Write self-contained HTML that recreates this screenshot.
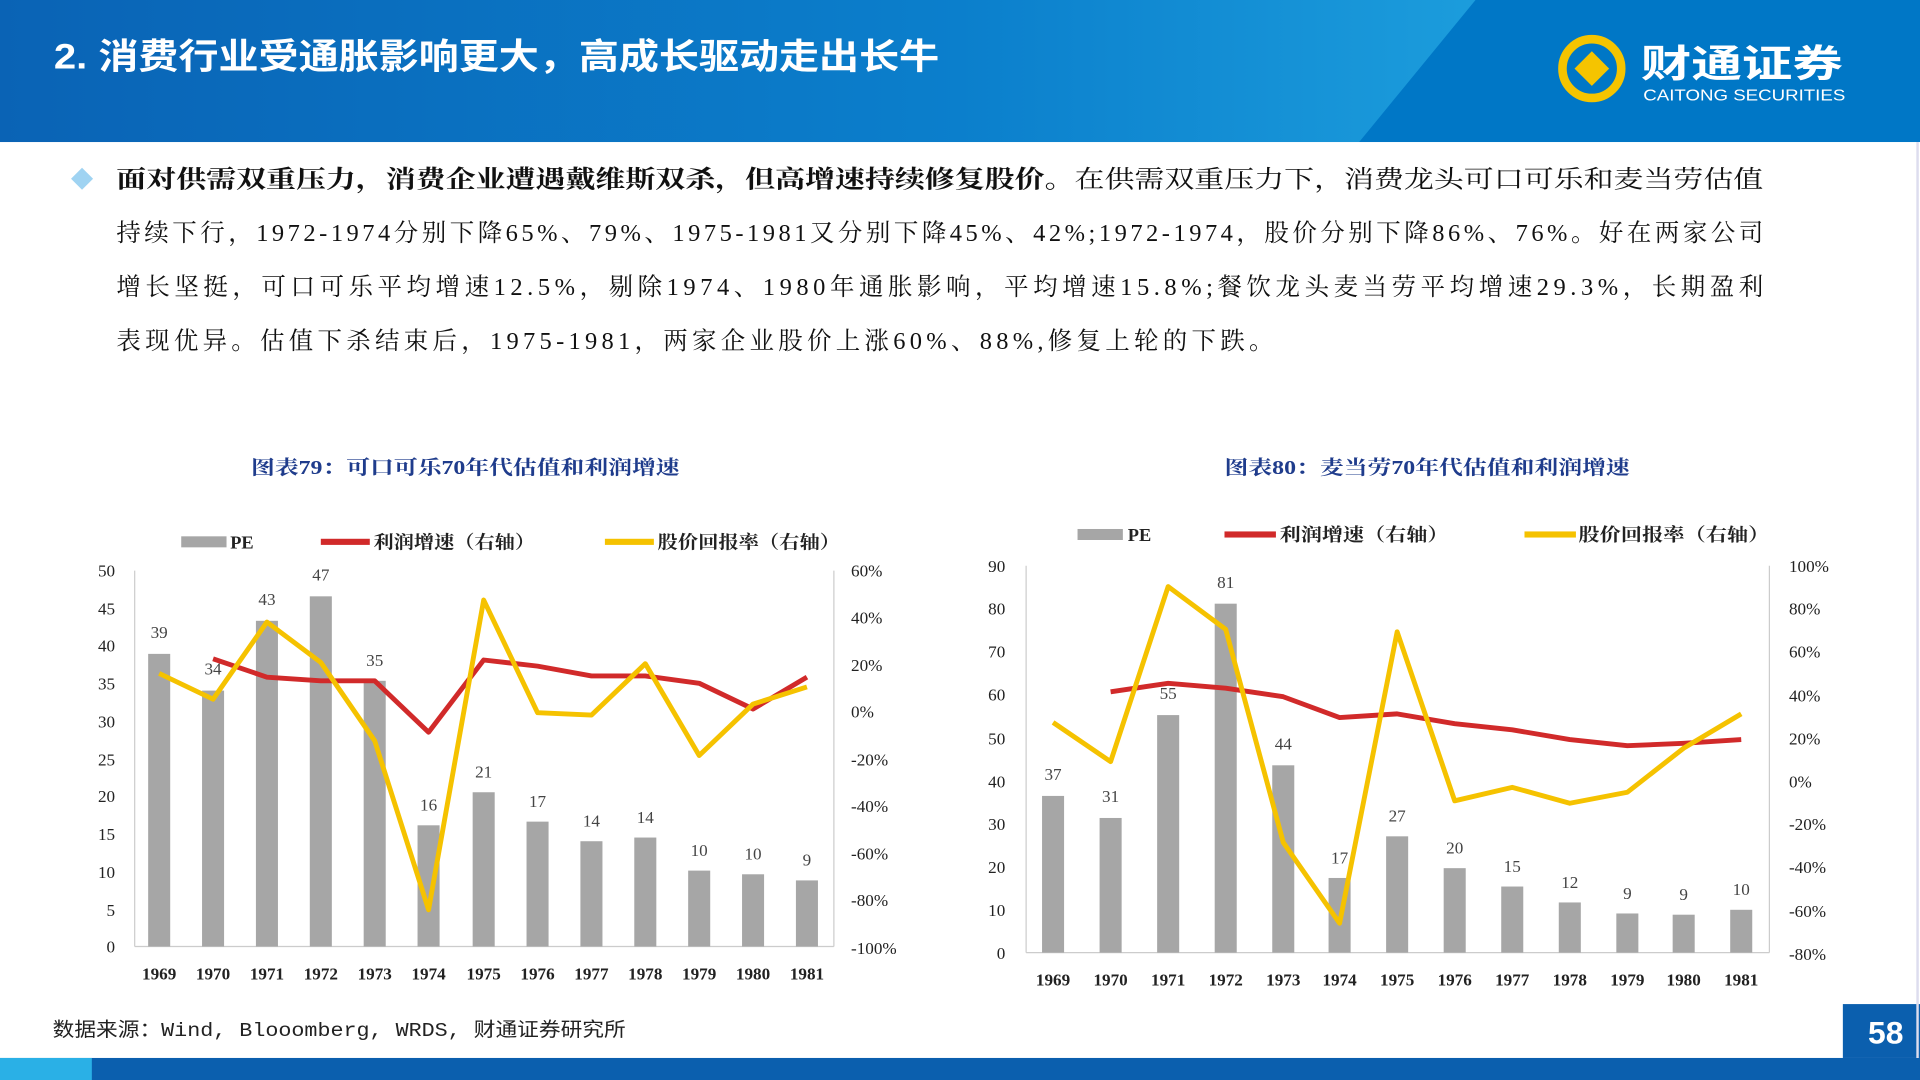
<!DOCTYPE html>
<html><head><meta charset="utf-8"><style>
html,body{margin:0;padding:0;background:#fff;width:1920px;height:1080px;overflow:hidden}
svg{display:block}
text{font-family:"Liberation Serif","Noto Serif CJK SC",serif}
</style></head><body>
<svg width="1920" height="1080" viewBox="0 0 1568 882" xmlns="http://www.w3.org/2000/svg">
<defs>
<linearGradient id="hg" x1="0" x2="1" y1="0" y2="0">
<stop offset="0" stop-color="#0a63b5"/><stop offset="0.5" stop-color="#0b7fcc"/><stop offset="1" stop-color="#2ab6ea"/>
</linearGradient>
</defs>
<rect x="0" y="0" width="1568" height="116" fill="url(#hg)"/>
<polygon points="1205,0 1568,0 1568,116 1110,116" fill="#0077c6"/>
<text x="44" y="56" font-size="29" fill="#fff" font-weight="bold" textLength="723" lengthAdjust="spacingAndGlyphs" style="font-family:'Liberation Sans','Noto Sans CJK SC',sans-serif">2. 消费行业受通胀影响更大，高成长驱动走出长牛</text>
<circle cx="1300" cy="56" r="24" fill="none" stroke="#f5c400" stroke-width="7"/>
<rect x="1290" y="46" width="20" height="20" fill="#f5c400" transform="rotate(45 1300 56)"/>
<text x="1340" y="63" font-size="31" fill="#fff" font-weight="bold" textLength="165" lengthAdjust="spacingAndGlyphs" style="font-family:'Liberation Sans','Noto Sans CJK SC',sans-serif">财通证券</text>
<text x="1342" y="82" font-size="13" fill="#fff" textLength="165" lengthAdjust="spacingAndGlyphs" style="font-family:'Liberation Sans',sans-serif">CAITONG SECURITIES</text>

<polygon points="67,137 76,146 67,155 58,146" fill="#9fd3f2"/>
<g font-size="20" fill="#111" style="font-family:'Liberation Serif','Noto Serif CJK SC',serif">
<text x="95" y="153" textLength="1345" lengthAdjust="spacingAndGlyphs"><tspan font-weight="bold">面对供需双重压力，消费企业遭遇戴维斯双杀，但高增速持续修复股价。</tspan>在供需双重压力下，消费龙头可口可乐和麦当劳估值</text>
<text x="95" y="197" textLength="1345">持续下行，1972-1974分别下降65%、79%、1975-1981又分别下降45%、42%;1972-1974，股价分别下降86%、76%。好在两家公司</text>
<text x="95" y="241" textLength="1345">增长坚挺，可口可乐平均增速12.5%，剔除1974、1980年通胀影响，平均增速15.8%;餐饮龙头麦当劳平均增速29.3%，长期盈利</text>
<text x="95" y="285" textLength="945">表现优异。估值下杀结束后，1975-1981，两家企业股价上涨60%、88%,修复上轮的下跌。</text>
</g>

<g font-size="16" fill="#1f3c8c" font-weight="bold" style="font-family:'Liberation Serif','Noto Serif CJK SC',serif">
<text x="205" y="387" textLength="350" lengthAdjust="spacingAndGlyphs">图表79：可口可乐70年代估值和利润增速</text>
<text x="1000" y="387" textLength="331" lengthAdjust="spacingAndGlyphs">图表80：麦当劳70年代估值和利润增速</text>
</g>

<!-- Chart 1 -->
<g font-size="14" fill="#222">
<line x1="110" y1="466" x2="110" y2="773" stroke="#ccc"/>
<line x1="110" y1="773" x2="681" y2="773" stroke="#ccc"/>
<line x1="681" y1="466" x2="681" y2="773" stroke="#ccc"/>
<g text-anchor="end">
<text x="94" y="778">0</text><text x="94" y="748">5</text><text x="94" y="717">10</text><text x="94" y="686">15</text><text x="94" y="655">20</text><text x="94" y="625">25</text><text x="94" y="594">30</text><text x="94" y="563">35</text><text x="94" y="532">40</text><text x="94" y="502">45</text><text x="94" y="471">50</text>
</g>
<g>
<text x="695" y="471">60%</text><text x="695" y="509">40%</text><text x="695" y="548">20%</text><text x="695" y="586">0%</text><text x="695" y="625">-20%</text><text x="695" y="663">-40%</text><text x="695" y="702">-60%</text><text x="695" y="740">-80%</text><text x="695" y="779">-100%</text>
</g>
<g fill="#a6a6a6">
<rect x="121" y="534" width="18" height="239"/><rect x="165" y="564" width="18" height="209"/><rect x="209" y="507" width="18" height="266"/><rect x="253" y="487" width="18" height="286"/><rect x="297" y="556" width="18" height="217"/><rect x="341" y="674" width="18" height="99"/><rect x="386" y="647" width="18" height="126"/><rect x="430" y="671" width="18" height="102"/><rect x="474" y="687" width="18" height="86"/><rect x="518" y="684" width="18" height="89"/><rect x="562" y="711" width="18" height="62"/><rect x="606" y="714" width="18" height="59"/><rect x="650" y="719" width="18" height="54"/>
</g>
<g text-anchor="middle" fill="#444" font-size="14">
<text x="130" y="521">39</text><text x="174" y="551">34</text><text x="218" y="494">43</text><text x="262" y="474">47</text><text x="306" y="544">35</text><text x="350" y="662">16</text><text x="395" y="635">21</text><text x="439" y="659">17</text><text x="483" y="675">14</text><text x="527" y="672">14</text><text x="571" y="699">10</text><text x="615" y="702">10</text><text x="659" y="707">9</text>
</g>
<polyline fill="none" stroke="#d12a2a" stroke-width="4" stroke-linejoin="round" points="174,538 218,553 262,556 306,556 350,598 395,539 439,544 483,552 527,552 571,558 615,579 659,553"/>
<polyline fill="none" stroke="#f5c200" stroke-width="4" stroke-linejoin="round" points="130,550 174,571 218,508 262,541 306,605 350,743 395,490 439,582 483,584 527,542 571,617 615,575 659,561"/>
<g text-anchor="middle" font-weight="bold" font-size="14">
<text x="130" y="800">1969</text><text x="174" y="800">1970</text><text x="218" y="800">1971</text><text x="262" y="800">1972</text><text x="306" y="800">1973</text><text x="350" y="800">1974</text><text x="395" y="800">1975</text><text x="439" y="800">1976</text><text x="483" y="800">1977</text><text x="527" y="800">1978</text><text x="571" y="800">1979</text><text x="615" y="800">1980</text><text x="659" y="800">1981</text>
</g>
<g font-weight="bold" font-size="15">
<rect x="148" y="438" width="37" height="9" fill="#a6a6a6"/><text x="188" y="448">PE</text>
<rect x="262" y="440" width="40" height="5" fill="#d12a2a"/><text x="305" y="448" textLength="132" lengthAdjust="spacingAndGlyphs">利润增速（右轴）</text>
<rect x="494" y="440" width="40" height="5" fill="#f5c200"/><text x="537" y="448" textLength="149" lengthAdjust="spacingAndGlyphs">股价回报率（右轴）</text>
</g>
</g>

<!-- Chart 2 -->
<g font-size="14" fill="#222">
<line x1="838" y1="462" x2="838" y2="778" stroke="#ccc"/>
<line x1="838" y1="778" x2="1445" y2="778" stroke="#ccc"/>
<line x1="1445" y1="462" x2="1445" y2="778" stroke="#ccc"/>
<g text-anchor="end">
<text x="821" y="783">0</text><text x="821" y="748">10</text><text x="821" y="713">20</text><text x="821" y="678">30</text><text x="821" y="643">40</text><text x="821" y="608">50</text><text x="821" y="572">60</text><text x="821" y="537">70</text><text x="821" y="502">80</text><text x="821" y="467">90</text>
</g>
<g>
<text x="1461" y="467">100%</text><text x="1461" y="502">80%</text><text x="1461" y="537">60%</text><text x="1461" y="573">40%</text><text x="1461" y="608">20%</text><text x="1461" y="643">0%</text><text x="1461" y="678">-20%</text><text x="1461" y="713">-40%</text><text x="1461" y="749">-60%</text><text x="1461" y="784">-80%</text>
</g>
<g fill="#a6a6a6">
<rect x="851" y="650" width="18" height="128"/><rect x="898" y="668" width="18" height="110"/><rect x="945" y="584" width="18" height="194"/><rect x="992" y="493" width="18" height="285"/><rect x="1039" y="625" width="18" height="153"/><rect x="1085" y="717" width="18" height="61"/><rect x="1132" y="683" width="18" height="95"/><rect x="1179" y="709" width="18" height="69"/><rect x="1226" y="724" width="18" height="54"/><rect x="1273" y="737" width="18" height="41"/><rect x="1320" y="746" width="18" height="32"/><rect x="1366" y="747" width="18" height="31"/><rect x="1413" y="743" width="18" height="35"/>
</g>
<g text-anchor="middle" fill="#444" font-size="14">
<text x="860" y="637">37</text><text x="907" y="655">31</text><text x="954" y="571">55</text><text x="1001" y="480">81</text><text x="1048" y="612">44</text><text x="1094" y="705">17</text><text x="1141" y="671">27</text><text x="1188" y="697">20</text><text x="1235" y="712">15</text><text x="1282" y="725">12</text><text x="1329" y="734">9</text><text x="1375" y="735">9</text><text x="1422" y="731">10</text>
</g>
<polyline fill="none" stroke="#d12a2a" stroke-width="4" stroke-linejoin="round" points="907,565 954,558 1001,562 1048,569 1094,586 1141,583 1188,591 1235,596 1282,604 1329,609 1375,607 1422,604"/>
<polyline fill="none" stroke="#f5c200" stroke-width="4" stroke-linejoin="round" points="860,590 907,622 954,479 1001,514 1048,688 1094,754 1141,516 1188,654 1235,643 1282,656 1329,647 1375,611 1422,583"/>
<g text-anchor="middle" font-weight="bold" font-size="14">
<text x="860" y="805">1969</text><text x="907" y="805">1970</text><text x="954" y="805">1971</text><text x="1001" y="805">1972</text><text x="1048" y="805">1973</text><text x="1094" y="805">1974</text><text x="1141" y="805">1975</text><text x="1188" y="805">1976</text><text x="1235" y="805">1977</text><text x="1282" y="805">1978</text><text x="1329" y="805">1979</text><text x="1375" y="805">1980</text><text x="1422" y="805">1981</text>
</g>
<g font-weight="bold" font-size="15">
<rect x="880" y="432" width="37" height="9" fill="#a6a6a6"/><text x="921" y="442">PE</text>
<rect x="1000" y="434" width="42" height="5" fill="#d12a2a"/><text x="1045" y="442" textLength="138" lengthAdjust="spacingAndGlyphs">利润增速（右轴）</text>
<rect x="1245" y="434" width="42" height="5" fill="#f5c200"/><text x="1289" y="442" textLength="156" lengthAdjust="spacingAndGlyphs">股价回报率（右轴）</text>
</g>
</g>

<text x="43" y="846" font-size="16" fill="#222" textLength="468" lengthAdjust="spacingAndGlyphs" style="font-family:'Liberation Mono','Noto Sans CJK SC',monospace">数据来源：Wind, Blooomberg, WRDS, 财通证券研究所</text>

<rect x="0" y="864" width="1568" height="18" fill="#0b5fae"/>
<rect x="0" y="864" width="75" height="18" fill="#2ab0e6"/>
<rect x="1505" y="820" width="63" height="44" fill="#0b5fae"/>
<text x="1540" y="852" text-anchor="middle" font-size="26" font-weight="bold" fill="#fff" style="font-family:'Liberation Sans',sans-serif">58</text>
<line x1="1566" y1="116" x2="1566" y2="864" stroke="#dde" stroke-width="2"/>
</svg>
</body></html>
